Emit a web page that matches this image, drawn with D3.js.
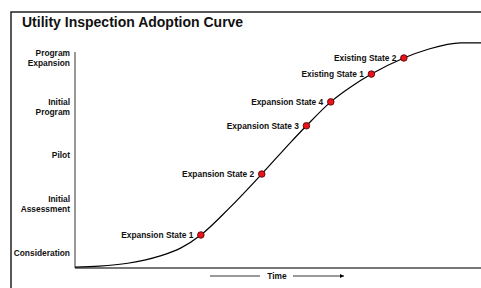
<!DOCTYPE html>
<html>
<head>
<meta charset="utf-8">
<script src="https://cdn.jsdelivr.net/npm/d3@7"></script>
<style>
  body { margin: 0; background: #fff; }
  text { font-family: Arial, "Liberation Sans", sans-serif; font-weight: bold; fill: #111; }
</style>
</head>
<body>
<div id="chart-area"></div>
<script>
// adoption stages (bottom to top)
var stages = ["Consideration", "Initial Assessment", "Pilot", "Initial Program", "Program Expansion"];

// curve: time 0..100, level in stage units (0 = Consideration)
var curveTime  = [0, 6, 13, 21, 26, 31, 38, 46, 53, 57, 63, 68, 73, 81, 87, 95, 100];
var curveLevel = [-0.29, -0.27, -0.21, -0.06, 0.10, 0.37, 0.92, 1.62, 2.26, 2.61, 3.10, 3.41, 3.67, 4.00, 4.18, 4.31, 4.31];

// state markers
var stateNames = ["Expansion State 1", "Expansion State 2", "Expansion State 3", "Expansion State 4", "Existing State 1", "Existing State 2"];
var stateTime  = [31, 46, 57, 63, 73, 81];
var stateLevel = [0.37, 1.62, 2.61, 3.10, 3.67, 4.00];

var width = 481, height = 288;
var margin = { left: 75, top: 52, bottom: 268 };

var svg = d3.select("#chart-area")
  .append("svg")
    .attr("width", width)
    .attr("height", height);

// outer frame (runs off the right / bottom)
svg.append("rect")
  .attr("x", 11)
  .attr("y", 12)
  .attr("width", 500)
  .attr("height", 300)
  .attr("fill", "none")
  .attr("stroke", "#222")
  .attr("stroke-width", 1.5);

svg.append("text")
  .attr("x", 22)
  .attr("y", 27)
  .attr("font-size", "14px")
  .text("Utility Inspection Adoption Curve");

var x = d3.scaleLinear().domain([0, 100]).range([margin.left, width]);
var y = d3.scaleLinear().domain([0, stages.length - 1]).range([253, 58]);

// axis lines
svg.append("line")
  .attr("x1", margin.left).attr("x2", margin.left)
  .attr("y1", margin.top).attr("y2", margin.bottom)
  .attr("stroke", "#777")
  .attr("stroke-width", 1.5);
svg.append("line")
  .attr("x1", margin.left).attr("x2", width)
  .attr("y1", margin.bottom).attr("y2", margin.bottom)
  .attr("stroke", "#777")
  .attr("stroke-width", 2);

// stage labels
var labels = svg.selectAll(".stage")
  .data(stages)
  .enter().append("text")
    .attr("class", "stage")
    .attr("text-anchor", "end")
    .attr("font-size", "8.4px")
    .attr("transform", function(d, i){ return "translate(70," + y(i) + ")"; });

labels.each(function(d){
  var words = d.split(" ");
  var t = d3.select(this);
  words.forEach(function(w, k){
    t.append("tspan")
      .attr("x", 0)
      .attr("y", (k - (words.length - 1) / 2) * 10)
      .attr("dy", "0.35em")
      .text(w);
  });
});

// curve
var curveData = curveTime.map(function(t, i){ return { t: t, v: curveLevel[i] }; });
var line = d3.line()
  .x(function(d){ return x(d.t); })
  .y(function(d){ return y(d.v); })
  .curve(d3.curveMonotoneX);

svg.append("path")
  .datum(curveData)
  .attr("d", line)
  .attr("fill", "none")
  .attr("stroke", "#000")
  .attr("stroke-width", 1.2);

// markers
var states = stateNames.map(function(n, i){ return { name: n, t: stateTime[i], v: stateLevel[i] }; });

svg.selectAll(".state-label")
  .data(states)
  .enter().append("text")
    .attr("class", "state-label")
    .attr("x", function(d){ return x(d.t) - 7.5; })
    .attr("y", function(d){ return y(d.v); })
    .attr("dy", "0.35em")
    .attr("text-anchor", "end")
    .attr("font-size", "8.4px")
    .text(function(d){ return d.name; });

svg.selectAll(".state-dot")
  .data(states)
  .enter().append("circle")
    .attr("class", "state-dot")
    .attr("cx", function(d){ return x(d.t); })
    .attr("cy", function(d){ return y(d.v); })
    .attr("r", 3.3)
    .attr("fill", "#e8131b")
    .attr("stroke", "#400")
    .attr("stroke-width", 0.8);

// time arrow
var ty = 276;
svg.append("defs").append("marker")
  .attr("id", "arrow")
  .attr("viewBox", "0 0 10 10")
  .attr("refX", 10).attr("refY", 5)
  .attr("markerWidth", 5).attr("markerHeight", 5)
  .attr("orient", "auto")
  .append("path")
    .attr("d", "M0,0L10,5L0,10z")
    .attr("fill", "#000");

svg.append("line")
  .attr("x1", 210).attr("x2", 260)
  .attr("y1", ty).attr("y2", ty)
  .attr("stroke", "#000").attr("stroke-width", 0.8);
svg.append("line")
  .attr("x1", 293).attr("x2", 344)
  .attr("y1", ty).attr("y2", ty)
  .attr("stroke", "#000").attr("stroke-width", 0.8)
  .attr("marker-end", "url(#arrow)");
svg.append("text")
  .attr("x", 277)
  .attr("y", ty)
  .attr("dy", "0.35em")
  .attr("text-anchor", "middle")
  .attr("font-size", "8.4px")
  .text("Time");
</script>
</body>
</html>
